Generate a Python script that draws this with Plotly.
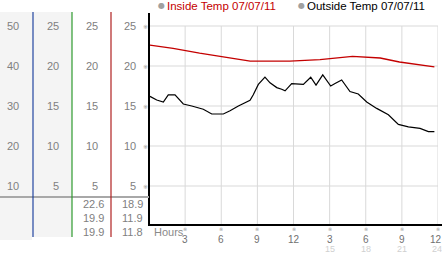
import plotly.graph_objects as go

# ---------------- data ----------------
series_names = ["Inside Temp 07/07/11", "Outside Temp 07/07/11"]
inside_hours = [0.08, 2.0, 4.2, 7.0, 8.4, 11.7, 14.2, 16.9, 19.2, 20.8, 23.7]
inside_temp = [22.6, 22.2, 21.6, 20.9, 20.6, 20.6, 20.8, 21.2, 21.0, 20.5, 19.9]

outside_hours = [0.08, 0.64, 1.19, 1.6, 2.16, 2.43, 2.85, 3.55, 4.51, 5.21, 6.17, 6.73,
                 7.42, 8.39, 8.66, 9.08, 9.63, 10.05, 10.61, 11.02, 11.3, 11.85, 12.54,
                 12.82, 13.43, 13.87, 14.43, 15.09, 15.45, 16.0, 16.69, 17.38, 18.08,
                 18.91, 19.88, 20.71, 21.54, 22.51, 23.2, 23.7]
outside_temp = [16.2, 15.75, 15.5, 16.4, 16.4, 16.0, 15.25, 15.0, 14.6, 14.0, 14.0, 14.4,
                15.0, 15.7, 16.4, 17.7, 18.6, 17.9, 17.3, 17.1, 16.9, 17.8, 17.75,
                17.7, 18.6, 17.6, 18.9, 17.5, 17.8, 18.25, 16.8, 16.5, 15.5,
                14.7, 13.9, 12.7, 12.4, 12.2, 11.8, 11.8]

y_ticks = [5, 10, 15, 20, 25]
col1_labels = ["10", "20", "30", "40", "50"]
col2_labels = ["5", "10", "15", "20", "25"]
col3_labels = ["5", "10", "15", "20", "25"]
col4_labels = ["5", "10", "15", "20", "25"]
inside_stats = ["22.6", "19.9", "19.9"]
outside_stats = ["18.9", "11.9", "11.8"]

x_ticks = [3, 6, 9, 12, 15, 18, 21, 24]
x_tick_labels = ["3", "6", "9", "12", "3", "6", "9", "12"]
x_tick_sub = ["", "", "", "", "15", "18", "21", "24"]

# ---------------- layout geometry ----------------
W, H = 442, 253
L, R, T, B = 149, 4, 13, 27
PW, PH = W - L - R, H - T - B


def px(xp):
    return (xp - L) / PW


def py(yp):
    return (H - B - yp) / PH


FONT = "Liberation Sans"
GRAY = "#808080"

fig = go.Figure()
fig.add_trace(go.Scatter(x=inside_hours, y=inside_temp, mode="lines",
                         line=dict(color="#c40000", width=1.3), name=series_names[0],
                         hoverinfo="skip"))
fig.add_trace(go.Scatter(x=outside_hours, y=outside_temp, mode="lines",
                         line=dict(color="#000000", width=1.2), name=series_names[1],
                         hoverinfo="skip"))

shapes = []
# left panel backgrounds
shapes.append(dict(type="rect", xref="paper", yref="paper", x0=px(0), x1=px(32),
                   y0=py(240), y1=py(12), fillcolor="#f4f4f4", line=dict(width=0), layer="below"))
shapes.append(dict(type="rect", xref="paper", yref="paper", x0=px(34), x1=px(72),
                   y0=py(237), y1=py(12), fillcolor="#f4f4f4", line=dict(width=0), layer="below"))
# grid
for v in y_ticks:
    shapes.append(dict(type="line", xref="x", yref="y", x0=0, x1=24.2, y0=v, y1=v,
                       line=dict(color="#d9d9d9", width=1), layer="below"))
for h in x_ticks:
    shapes.append(dict(type="line", xref="x", yref="y", x0=h, x1=h, y0=0, y1=25,
                       line=dict(color="#d9d9d9", width=1), layer="below"))
# axis lines
shapes.append(dict(type="line", xref="paper", yref="paper", x0=px(149), x1=px(149),
                   y0=py(225), y1=py(13), line=dict(color="#000", width=2)))
shapes.append(dict(type="line", xref="paper", yref="paper", x0=px(148), x1=px(442),
                   y0=py(225), y1=py(225), line=dict(color="#000", width=2)))
# left table separator
shapes.append(dict(type="line", xref="paper", yref="paper", x0=px(0), x1=px(149),
                   y0=py(197), y1=py(197), line=dict(color="#a8a8a8", width=2)))
# colored column lines
for xc, col in [(33, "#1c3f99"), (72, "#2e9a2e"), (111, "#b02020")]:
    shapes.append(dict(type="line", xref="paper", yref="paper", x0=px(xc), x1=px(xc),
                       y0=py(237), y1=py(12), line=dict(color=col, width=1.2)))

ann = []
# left column tick labels
for labels, xr in [(col1_labels, 21), (col2_labels, 61), (col3_labels, 100), (col4_labels, 138)]:
    for v, t in zip(y_ticks, labels):
        ann.append(dict(xref="paper", yref="y", x=px(xr), y=v, text=t, showarrow=False,
                        xanchor="right", yanchor="middle",
                        font=dict(family=FONT, size=11, color=GRAY)))
for v in y_ticks:
    ann.append(dict(xref="paper", yref="y", x=px(145), y=v, text="※", showarrow=False,
                    xanchor="center", yanchor="middle",
                    font=dict(family="DejaVu Sans", size=6, color="#999")))
# stats
for i, (a, b) in enumerate(zip(inside_stats, outside_stats)):
    yy = [204, 218, 232][i]
    ann.append(dict(xref="paper", yref="paper", x=px(106), y=py(yy), text=a, showarrow=False,
                    xanchor="right", yanchor="middle", font=dict(family=FONT, size=11, color=GRAY)))
    ann.append(dict(xref="paper", yref="paper", x=px(145), y=py(yy), text=b, showarrow=False,
                    xanchor="right", yanchor="middle", font=dict(family=FONT, size=11, color=GRAY)))
# x ticks
ann.append(dict(xref="paper", yref="paper", x=px(152), y=py(232), text="Hours", showarrow=False,
                xanchor="left", yanchor="middle", font=dict(family=FONT, size=11, color="#8a8a8a")))
for i, (h, t, s) in enumerate(zip(x_ticks, x_tick_labels, x_tick_sub)):
    last = i == len(x_ticks) - 1
    xa = "right" if last else "center"
    xs = 5 if last else 0
    ann.append(dict(xref="x", yref="paper", x=h, y=py(229), text="※", showarrow=False,
                    xanchor="center", yanchor="middle", borderpad=0,
                    font=dict(family="DejaVu Sans", size=5, color="#999")))
    ann.append(dict(xref="x", yref="paper", x=h, y=py(239), text=t, showarrow=False,
                    xanchor=xa, xshift=xs, yanchor="middle", borderpad=0,
                    font=dict(family=FONT, size=10, color="#707070")))
    if s:
        ann.append(dict(xref="x", yref="paper", x=h, y=py(248.5), text=s, showarrow=False,
                        xanchor=xa, xshift=xs, yanchor="middle", borderpad=0,
                        font=dict(family=FONT, size=9, color="#d0d0d0")))
# legend
for name, col, xm in [(series_names[0], "#c40000", 161), (series_names[1], "#000000", 301)]:
    ann.append(dict(xref="paper", yref="paper", x=px(xm), y=py(6), text="●", showarrow=False,
                    xanchor="center", yanchor="middle", font=dict(family="DejaVu Sans", size=8, color="#a0a0a0")))
    ann.append(dict(xref="paper", yref="paper", x=px(xm + 4), y=py(6), text=name, showarrow=False,
                    xanchor="left", yanchor="middle", font=dict(family=FONT, size=11.5, color=col)))

fig.update_layout(
    width=W, height=H, margin=dict(l=L, r=R, t=T, b=B),
    paper_bgcolor="white", plot_bgcolor="white", showlegend=False,
    xaxis=dict(range=[0, 24], showgrid=False, zeroline=False, showticklabels=False, showline=False),
    yaxis=dict(range=[0, PH / 8], showgrid=False, zeroline=False, showticklabels=False, showline=False),
    shapes=shapes, annotations=ann,
)
fig.write_html("out.html")
